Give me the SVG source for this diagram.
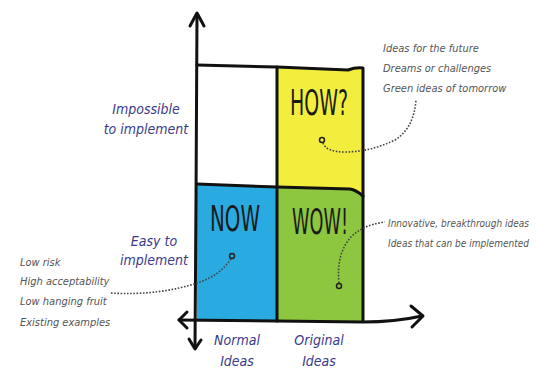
<svg xmlns="http://www.w3.org/2000/svg" width="536" height="369" viewBox="0 0 536 369">
<style>
.ln{fill:none;stroke:#111;stroke-width:3;stroke-linecap:round;stroke-linejoin:round}
.dot{fill:none;stroke:#444;stroke-width:1.6;stroke-dasharray:1.6 1.6}
.big{font-family:"DejaVu Sans Condensed","DejaVu Sans",sans-serif;font-size:36px;fill:#1a1a1a}
.axis{font-family:"DejaVu Sans Condensed","DejaVu Sans",sans-serif;font-style:italic;font-size:14px;fill:#3a3a8c}
.note{font-family:"DejaVu Sans Condensed","DejaVu Sans",sans-serif;font-style:italic;font-size:11px;fill:#555}
.note2{font-family:"DejaVu Sans Condensed","DejaVu Sans",sans-serif;font-style:italic;font-size:10px;fill:#555}
.ring{fill:none;stroke:#222;stroke-width:1.5}
</style>
<rect width="536" height="369" fill="#fff"/>
<g id="q-how">
<path d="M277,67 L348,70 Q356,67 363,68 L363,196 Q356,190 350,189 L277,187 Z" fill="#f3ee3d"/>
<text class="big" x="290" y="115" textLength="58" lengthAdjust="spacingAndGlyphs">HOW?</text>
<circle class="ring" cx="322" cy="140" r="2.5"/>
</g>
<g id="q-now">
<path d="M197,184 L277,187 L277,321 L197,321 Z" fill="#29abe2"/>
<text class="big" x="210" y="231" textLength="50" lengthAdjust="spacingAndGlyphs">NOW</text>
<circle class="ring" cx="232" cy="256" r="2.5"/>
</g>
<g id="q-wow">
<path d="M277,187 L350,189 Q356,190 363,196 L363,321 L277,321 Z" fill="#8dc63f"/>
<text class="big" x="292" y="234" textLength="56" lengthAdjust="spacingAndGlyphs">WOW!</text>
<circle class="ring" cx="339" cy="286" r="2.5"/>
</g>
<g id="grid">
<path class="ln" d="M197,65 L277,67 L348,70 Q356,67 363,68 L363,321"/>
<path class="ln" d="M277,67 L277,321"/>
<path class="ln" d="M197,184 L277,187 L350,189 Q356,190 363,196"/>
</g>
<g id="axes">
<path class="ln" d="M197,14 L196,200 L195,348"/>
<path class="ln" d="M190,26 L197,13 L204,26"/>
<path class="ln" d="M189,339 L195,349 L201,340"/>
<path class="ln" d="M179,320 L363,322 Q395,322 422,316"/>
<path class="ln" d="M187,312 L179,320 L187,328"/>
<path class="ln" d="M411,306 L423,316 L412,327"/>
</g>
<g id="labels">
<text class="axis" x="146" y="114" text-anchor="middle">Impossible</text>
<text class="axis" x="146" y="134" text-anchor="middle">to implement</text>
<text class="axis" x="154" y="246" text-anchor="middle">Easy to</text>
<text class="axis" x="154" y="265" text-anchor="middle">implement</text>
<text class="axis" x="237" y="345" text-anchor="middle">Normal</text>
<text class="axis" x="237" y="366" text-anchor="middle">Ideas</text>
<text class="axis" x="319" y="345" text-anchor="middle">Original</text>
<text class="axis" x="319" y="366" text-anchor="middle">Ideas</text>
</g>
<g id="notes">
<text class="note" x="383" y="52">Ideas for the future</text>
<text class="note" x="383" y="72">Dreams or challenges</text>
<text class="note" x="383" y="92">Green ideas of tomorrow</text>
<text class="note2" x="388" y="227">Innovative, breakthrough ideas</text>
<text class="note2" x="388" y="247">Ideas that can be implemented</text>
<text class="note" x="20" y="266">Low risk</text>
<text class="note" x="20" y="285">High acceptability</text>
<text class="note" x="20" y="305">Low hanging fruit</text>
<text class="note" x="20" y="326">Existing examples</text>
</g>
<g id="connectors">
<path class="dot" d="M323,143 Q326,152 345,152 Q370,152 395,140 Q414,128 416,100"/>
<path class="dot" d="M231,259 Q220,275 200,282 Q160,296 110,293"/>
<path class="dot" d="M339,283 Q336,255 350,238 Q362,225 385,222"/>
</g>
</svg>
